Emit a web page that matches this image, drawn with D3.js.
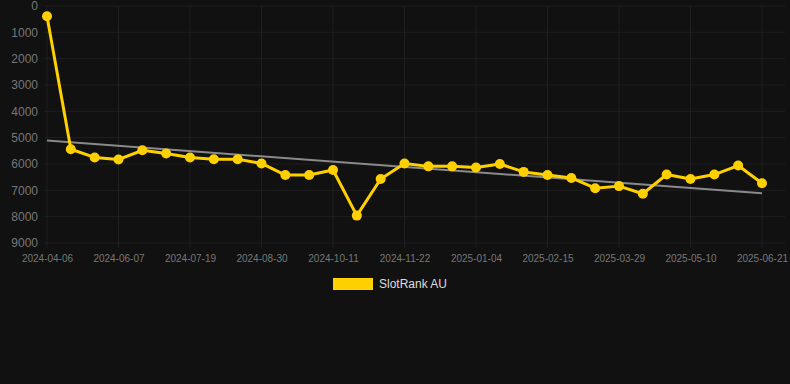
<!DOCTYPE html>
<html><head><meta charset="utf-8">
<script src="https://cdn.jsdelivr.net/npm/d3@7"></script>
<style>
html,body{margin:0;padding:0;background:#111111;}
svg{display:block;font-family:Arial,"Liberation Sans",sans-serif;}
</style></head>
<body>
<svg id="chart" width="790" height="384"></svg>
<script>
const categories = ["2024-04-06","2024-05-10","2024-05-24","2024-06-07","2024-06-21","2024-07-05","2024-07-19","2024-08-02","2024-08-16","2024-08-30","2024-09-13","2024-09-27","2024-10-11","2024-10-25","2024-11-08","2024-11-22","2024-12-06","2024-12-20","2025-01-04","2025-01-18","2025-02-01","2025-02-15","2025-03-01","2025-03-15","2025-03-29","2025-04-12","2025-04-26","2025-05-10","2025-05-24","2025-06-07","2025-06-21"];
const slotRankAU = [390,5440,5750,5830,5480,5600,5750,5820,5820,5980,6420,6420,6230,7960,6570,5980,6090,6090,6130,6000,6300,6420,6530,6920,6840,7130,6400,6570,6400,6060,6730];
const trendValues = [5110,7110];
const yTicks = [0,1000,2000,3000,4000,5000,6000,7000,8000,9000];
const seriesName = "SlotRank AU";

const svg = d3.select("#chart");
const x = d3.scalePoint().domain(categories).range([47,762]);
const y = d3.scaleLinear().domain([0,9000]).range([6,243]);
const gridColor = "#1f1f1f";

// horizontal grid
svg.append("g").selectAll("line").data(yTicks).join("line")
  .attr("x1",44).attr("x2",785)
  .attr("y1",d=>y(d)).attr("y2",d=>y(d))
  .attr("stroke",gridColor).attr("stroke-width",1);
// vertical grid on labelled categories
const labelCats = categories.filter((d,i)=>i%3===0);
svg.append("g").selectAll("line").data(labelCats).join("line")
  .attr("x1",d=>x(d)).attr("x2",d=>x(d))
  .attr("y1",6).attr("y2",248)
  .attr("stroke",gridColor).attr("stroke-width",1);

// y axis labels
const yAxis = d3.axisLeft(y).tickValues(yTicks).tickSize(0).tickPadding(0).tickFormat(d3.format("d"));
const gy = svg.append("g").attr("transform","translate(38,0)").call(yAxis);
gy.select(".domain").remove();
gy.selectAll("text").attr("fill","#777777").attr("font-size","12px");

// x axis labels
const xAxis = d3.axisBottom(x).tickValues(labelCats).tickSize(0).tickPadding(0);
const gx = svg.append("g").attr("transform","translate(0,255)").call(xAxis);
gx.select(".domain").remove();
gx.selectAll("text").attr("fill","#777777").attr("font-size","10px").attr("dy","0.7em");

// trend line
const xs = [categories[0], categories[categories.length-1]];
svg.append("line")
  .attr("x1",x(xs[0])).attr("y1",y(trendValues[0]))
  .attr("x2",x(xs[1])).attr("y2",y(trendValues[1]))
  .attr("stroke","#8a8a8a").attr("stroke-width",2);

// series line
const line = d3.line().x((d,i)=>x(categories[i])).y(d=>y(d));
svg.append("path").datum(slotRankAU)
  .attr("d",line).attr("fill","none")
  .attr("stroke","#FFD000").attr("stroke-width",3).attr("stroke-linejoin","round");
svg.append("g").selectAll("circle").data(slotRankAU).join("circle")
  .attr("cx",(d,i)=>x(categories[i])).attr("cy",d=>y(d)).attr("r",5)
  .attr("fill","#FFD000");

// legend
const lg = svg.append("g");
lg.append("rect").attr("x",333).attr("y",278).attr("width",40).attr("height",12).attr("fill","#FFD000");
lg.append("text").attr("x",379).attr("y",284).attr("dy","0.35em")
  .attr("fill","#dddddd").attr("font-size","12px").text(seriesName);
</script>
</body></html>
